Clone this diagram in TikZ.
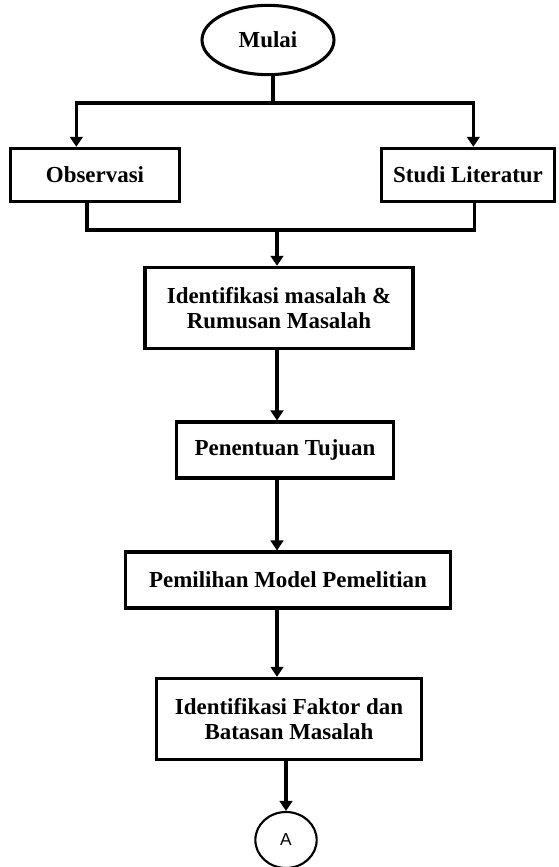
\documentclass[tikz,border=0pt]{standalone}
\usepackage{fontspec}
\setmainfont{Liberation Serif}
\newfontfamily\labelsans{Liberation Sans}
\usepackage{tikz}
\usetikzlibrary{arrows.meta,shapes,positioning,calc}

\begin{document}
\begin{tikzpicture}[x=0.75pt,y=-0.75pt,
                    kotak/.style={draw,line width=2.3pt,align=center,font=\fontsize{17.2}{19}\selectfont\bfseries},
                    panah/.style={line width=2.5pt,-{Triangle[length=7.5pt,width=9.5pt]}},
                    garis/.style={line width=2.5pt}]
                    \useasboundingbox (0,0) rectangle (558,867);
                    \node[kotak,ellipse,minimum width=99pt,minimum height=52pt] (mulai) at (268,40) {Mulai};
                    \node[kotak,minimum width=127pt,minimum height=40pt] (obs) at (95,175) {Observasi};
                    \node[kotak,minimum width=130pt,minimum height=40pt] (studi) at (468,175) {Studi Literatur};
                    \node[kotak,minimum width=201pt,minimum height=61pt] (idmasalah) at (279,308) {Identifikasi masalah \&\\ Rumusan Masalah};
                    \node[kotak,minimum width=163pt,minimum height=42pt] (tujuan) at (285,450) {Penentuan Tujuan};
                    \node[kotak,minimum width=244pt,minimum height=42pt] (model) at (288,580) {Pemilihan Model Pemelitian};
                    \node[kotak,minimum width=199pt,minimum height=61pt] (faktor) at (289,719) {Identifikasi Faktor dan\\ Batasan Masalah};
                    \node[draw,ellipse,line width=1.6pt,minimum width=46pt,minimum height=42pt,font=\labelsans\fontsize{13}{15}\selectfont] (A) at (286,840) {A};

                    \coordinate (cabang) at (273,103);
                    \coordinate (gabung) at (277,230);
                    \draw[garis] (mulai.south -| cabang) -- (cabang);
                    \draw[panah] (cabang) -| ([xshift=-14pt]obs.north);
                    \draw[panah] (cabang) -| ([xshift=4pt]studi.north);
                    \draw[garis] ([xshift=-6pt]obs.south) |- (gabung);
                    \draw[garis] ([xshift=5pt]studi.south) |- (gabung);
                    \draw[panah] (gabung) -- (gabung |- idmasalah.north);
                    \draw[panah] (idmasalah.south -| gabung) -- (gabung |- tujuan.north);
                    \draw[panah] (tujuan.south -| gabung) -- (gabung |- model.north);
                    \draw[panah] (model.south -| gabung) -- (gabung |- faktor.north);
                    \draw[panah] (faktor.south -| A) -- (A.north);
\end{tikzpicture}
\end{document}
